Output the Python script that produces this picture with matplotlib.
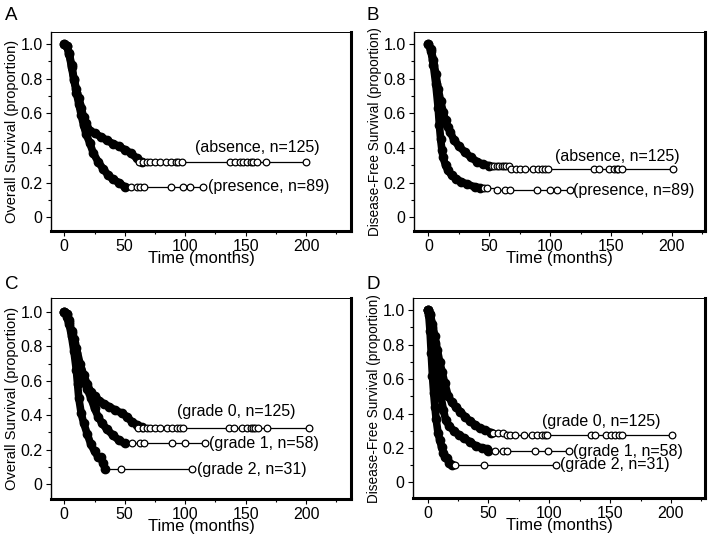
import matplotlib
matplotlib.use("Agg")
import matplotlib.pyplot as plt
from matplotlib.ticker import FixedLocator, FixedFormatter

plt.rcParams["font.family"] = ["Liberation Sans", "DejaVu Sans"]

# ---------------------------------------------------------------------------
# Data: (time in months, survival proportion)
# "band" = dense run of events, "cens" = censored observations (open circles)
# ---------------------------------------------------------------------------
# Panel A - overall survival, absence / presence
A_abs_t = [0, 2, 4, 6, 8, 10, 12, 14, 16, 18, 21, 25, 30, 35, 40, 45, 50, 55, 60, 64]
A_abs_s = [1.0, 0.99, 0.95, 0.88, 0.80, 0.74, 0.69, 0.63, 0.58, 0.545, 0.50, 0.485,
           0.465, 0.445, 0.425, 0.41, 0.39, 0.37, 0.34, 0.32]
A_abs_cens_t = [62, 65, 68, 71, 75, 79, 84, 88, 92, 94, 97, 137, 141, 145, 148, 151,
                154, 156, 159, 167, 200]
A_abs_cens_s = [0.317] * len(A_abs_cens_t)

A_pre_t = [0, 2, 4, 6, 8, 10, 12, 14, 16, 18, 21, 24, 28, 32, 36, 40, 45, 50]
A_pre_s = [1.0, 0.99, 0.94, 0.87, 0.79, 0.72, 0.655, 0.59, 0.53, 0.48, 0.43, 0.37,
           0.32, 0.28, 0.245, 0.22, 0.20, 0.175]
A_pre_cens_t = [55, 60, 63, 66, 88, 98, 104, 115]
A_pre_cens_s = [0.175] * len(A_pre_cens_t)

# Panel B - disease-free survival, absence / presence
B_abs_t = [0, 2, 4, 6, 8, 10, 12, 14, 16, 18, 21, 25, 30, 35, 40, 45, 50]
B_abs_s = [1.0, 0.97, 0.91, 0.83, 0.74, 0.67, 0.61, 0.56, 0.52, 0.49, 0.445, 0.41,
           0.375, 0.345, 0.32, 0.305, 0.297]
B_abs_cens_t = [52, 54, 56, 58, 60, 62, 64, 66, 68, 72, 75, 79, 86, 90, 93, 96, 98,
                136, 140, 148, 152, 155, 156, 159, 200.5]
B_abs_cens_s = [0.297] * 8 + [0.278] * 17

B_pre_t = [0, 2, 4, 6, 8, 9, 10, 11, 12, 14, 16, 19, 23, 27, 32, 38, 42]
B_pre_s = [1.0, 0.96, 0.88, 0.77, 0.63, 0.53, 0.45, 0.39, 0.345, 0.30, 0.27, 0.243,
           0.22, 0.204, 0.19, 0.175, 0.17]
B_pre_cens_t = [46, 48, 56, 63, 67, 89, 100, 105.5, 116]
B_pre_cens_s = [0.17, 0.17] + [0.155] * 7

# Panel C - overall survival by grade
C_g0_t = [0, 2, 4, 6, 8, 10, 13, 16, 19, 22, 25, 29, 33, 37, 42, 48, 52, 56, 60, 64]
C_g0_s = [1.0, 0.99, 0.95, 0.89, 0.84, 0.79, 0.70, 0.635, 0.58, 0.535, 0.51, 0.485,
          0.465, 0.45, 0.43, 0.41, 0.39, 0.36, 0.345, 0.33]
C_g0_cens_t = [61, 65, 68, 71, 75, 79, 85, 89, 93, 96, 98, 136, 140, 147, 151, 154,
               156, 158, 160, 167.5, 202]
C_g0_cens_s = [0.323] * len(C_g0_cens_t)

C_g1_t = [0, 2, 4, 6, 8, 10, 13, 16, 19, 22, 25, 28, 31, 35, 40, 45, 50]
C_g1_s = [1.0, 0.99, 0.94, 0.88, 0.82, 0.76, 0.67, 0.60, 0.55, 0.50, 0.44, 0.39,
          0.355, 0.32, 0.285, 0.255, 0.236]
C_g1_cens_t = [56, 63, 66, 89, 100, 116.5]
C_g1_cens_s = [0.236] * len(C_g1_cens_t)

C_g2_t = [0, 2, 4, 6, 8, 10, 11, 12, 14, 16, 19, 22, 25, 28, 30, 32, 34]
C_g2_s = [1.0, 0.97, 0.93, 0.86, 0.77, 0.66, 0.58, 0.50, 0.41, 0.355, 0.29, 0.23,
          0.19, 0.158, 0.155, 0.12, 0.087]
C_g2_cens_t = [46.8, 106]
C_g2_cens_s = [0.087, 0.087]

# Panel D - disease-free survival by grade
D_g0_t = [0, 2, 4, 6, 8, 10, 12, 14, 17, 20, 23, 27, 31, 35, 39, 43, 47, 52]
D_g0_s = [1.0, 0.98, 0.92, 0.85, 0.77, 0.70, 0.64, 0.58, 0.50, 0.465, 0.44, 0.41,
          0.38, 0.355, 0.335, 0.315, 0.305, 0.29]
D_g0_cens_t = [54, 58, 62, 65, 68, 72, 79, 86, 90, 94, 96.5, 98, 134, 138, 147, 151,
               154, 157, 160, 201]
D_g0_cens_s = [0.29] * 3 + [0.277] * 17

D_g1_t = [0, 2, 4, 6, 8, 10, 11, 13, 15, 18, 22, 26, 30, 35, 40, 45, 49, 50]
D_g1_s = [1.0, 0.97, 0.90, 0.81, 0.70, 0.58, 0.50, 0.42, 0.36, 0.325, 0.297, 0.275,
          0.258, 0.235, 0.21, 0.20, 0.195, 0.18]
D_g1_cens_t = [55, 62, 65, 88, 99, 116]
D_g1_cens_s = [0.18] * len(D_g1_cens_t)

D_g2_t = [0, 1, 2, 3, 4, 5, 6, 7, 8.5, 10, 11.5, 13, 14.5, 16, 18, 20]
D_g2_s = [1.0, 0.97, 0.88, 0.75, 0.62, 0.52, 0.44, 0.37, 0.29, 0.245, 0.205, 0.17,
          0.15, 0.14, 0.113, 0.103]
D_g2_cens_t = [22.5, 46.3, 105.6]
D_g2_cens_s = [0.103] * 3

X_TICKS = [0, 50, 100, 150, 200]
X_MINOR = [25, 75, 125, 175, 225]
Y_TICKS = [0, 0.2, 0.4, 0.6, 0.8, 1.0]
Y_TICK_LABELS = ["0", "0.2", "0.4", "0.6", "0.8", "1.0"]
Y_MINOR = [0.1, 0.3, 0.5, 0.7, 0.9]


def km(ax, t, s, ct, cs):
    # dense event runs look like a solid band of filled dots
    ax.plot(t, s, color="black", lw=5.5, solid_capstyle="round",
            solid_joinstyle="round", zorder=3)
    ax.plot(t, s, "o", color="black", ms=6, zorder=3)
    ax.plot([t[-1]] + list(ct), [s[-1]] + list(cs), color="black", lw=0.9,
            drawstyle="steps-post", zorder=2)
    ax.plot(ct, cs, "o", mfc="white", mec="black", ms=4.8, mew=0.9, zorder=4)


def style_axes(ax, ylabel, ylsize, xlim, ylim):
    ax.set_xlim(*xlim)
    ax.set_ylim(*ylim)
    ax.xaxis.set_major_locator(FixedLocator(X_TICKS))
    ax.xaxis.set_minor_locator(FixedLocator(X_MINOR))
    ax.yaxis.set_major_locator(FixedLocator(Y_TICKS))
    ax.yaxis.set_major_formatter(FixedFormatter(Y_TICK_LABELS))
    ax.yaxis.set_minor_locator(FixedLocator(Y_MINOR))
    ax.tick_params(which="both", direction="out", top=False, right=False,
                   labelsize=11.5, width=0.8)
    ax.tick_params(which="major", length=3.5, pad=2.5)
    ax.tick_params(which="minor", length=2)
    ax.set_xlabel("Time (months)", fontsize=12, labelpad=-2.5)
    ax.set_ylabel(ylabel, fontsize=ylsize, labelpad=1)
    ax.spines["left"].set_linewidth(1.0)
    ax.spines["top"].set_linewidth(0.7)
    ax.spines["right"].set_linewidth(2.2)
    ax.spines["bottom"].set_linewidth(2.2)


fig = plt.figure(figsize=(7.21, 5.43), dpi=100)
axA = fig.add_axes([0.0707, 0.5746, 0.416, 0.3665])
axB = fig.add_axes([0.574, 0.5746, 0.4036, 0.3665])
axC = fig.add_axes([0.0707, 0.081, 0.416, 0.370])
axD = fig.add_axes([0.5728, 0.0829, 0.405, 0.368])

TXT = 11.5

# A
km(axA, A_abs_t, A_abs_s, A_abs_cens_t, A_abs_cens_s)
km(axA, A_pre_t, A_pre_s, A_pre_cens_t, A_pre_cens_s)
axA.text(108, 0.40, "(absence, n=125)", fontsize=TXT, va="center", ha="left")
axA.text(118.5, 0.175, "(presence, n=89)", fontsize=TXT, va="center", ha="left")
style_axes(axA, "Overall Survival (proportion)", 10.5, (-11, 237), (-0.08, 1.07))

# B
km(axB, B_abs_t, B_abs_s, B_abs_cens_t, B_abs_cens_s)
km(axB, B_pre_t, B_pre_s, B_pre_cens_t, B_pre_cens_s)
axB.text(104, 0.35, "(absence, n=125)", fontsize=TXT, va="center", ha="left")
axB.text(119, 0.155, "(presence, n=89)", fontsize=TXT, va="center", ha="left")
style_axes(axB, "Disease-Free Survival (proportion)", 9.8, (-12, 227), (-0.08, 1.07))

# C
km(axC, C_g0_t, C_g0_s, C_g0_cens_t, C_g0_cens_s)
km(axC, C_g1_t, C_g1_s, C_g1_cens_t, C_g1_cens_s)
km(axC, C_g2_t, C_g2_s, C_g2_cens_t, C_g2_cens_s)
axC.text(93, 0.42, "(grade 0, n=125)", fontsize=TXT, va="center", ha="left")
axC.text(120, 0.236, "(grade 1, n=58)", fontsize=TXT, va="center", ha="left")
axC.text(109.5, 0.087, "(grade 2, n=31)", fontsize=TXT, va="center", ha="left")
style_axes(axC, "Overall Survival (proportion)", 10.5, (-11, 237), (-0.087, 1.08))

# D
km(axD, D_g0_t, D_g0_s, D_g0_cens_t, D_g0_cens_s)
km(axD, D_g1_t, D_g1_s, D_g1_cens_t, D_g1_cens_s)
km(axD, D_g2_t, D_g2_s, D_g2_cens_t, D_g2_cens_s)
axD.text(93.8, 0.355, "(grade 0, n=125)", fontsize=TXT, va="center", ha="left")
axD.text(119.5, 0.18, "(grade 1, n=58)", fontsize=TXT, va="center", ha="left")
axD.text(109, 0.103, "(grade 2, n=31)", fontsize=TXT, va="center", ha="left")
style_axes(axD, "Disease-Free Survival (proportion)", 9.8, (-12, 228), (-0.09, 1.07))

for lbl, x, y in [("A", 0.007, 0.988), ("B", 0.508, 0.988),
                  ("C", 0.007, 0.492), ("D", 0.508, 0.492)]:
    fig.text(x, y, lbl, fontsize=13.5, ha="left", va="top")

fig.savefig("out.png", dpi=100)
